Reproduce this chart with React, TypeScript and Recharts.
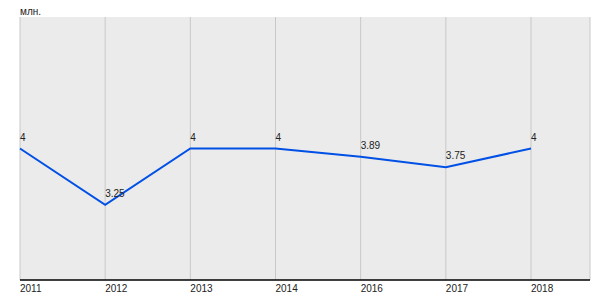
import { LineChart, Line, XAxis, YAxis, CartesianGrid, LabelList } from 'recharts';

const years = ['2011', '2012', '2013', '2014', '2016', '2017', '2018'];
const values = [4, 3.25, 4, 4, 3.89, 3.75, 4];
const unitLabel = 'млн.';

const data = years.map((year, i) => ({ year, value: values[i] }));

const FONT = '"Liberation Sans", Arial, sans-serif';

const YearTick = ({ x, payload }: any) => (
    <text x={x} y={292} textAnchor="start" fontSize={10} fontFamily={FONT} fill="#222">
        {payload.value}
    </text>
);

const PointLabel = ({ x, y, value }: any) => (
    <text x={x} y={y - 8} textAnchor="start" fontSize={10} fontFamily={FONT} fill="#222">
        {value}
    </text>
);

export default function App() {
    return (
        <div style={{ position: 'absolute', left: 0, top: 0, width: 600, height: 300, background: '#fff' }}>
            <LineChart width={600} height={300} data={data} margin={{ top: 17, right: 10, left: 20, bottom: 0 }}>
                <text x={20} y={15} fontSize={10} fontFamily={FONT} fill="#222">{unitLabel}</text>
                <CartesianGrid horizontal={false} fill="#ebebeb" stroke="#c8c8c8" />
                <XAxis
                    dataKey="year"
                    height={20}
                    padding={{ left: 0, right: 59 }}
                    axisLine={{ stroke: '#000', strokeWidth: 1.5 }}
                    tickLine={false}
                    tick={<YearTick />}
                    interval={0}
                />
                <YAxis
                    width={0}
                    domain={[2.25, 5.75]}
                    tick={false}
                    tickLine={false}
                    axisLine={{ stroke: '#000', strokeWidth: 1.5 }}
                />
                <Line
                    type="linear"
                    dataKey="value"
                    stroke="#0050e6"
                    strokeWidth={2}
                    dot={false}
                    isAnimationActive={false}
                >
                    <LabelList dataKey="value" content={<PointLabel />} />
                </Line>
            </LineChart>
        </div>
    );
}
